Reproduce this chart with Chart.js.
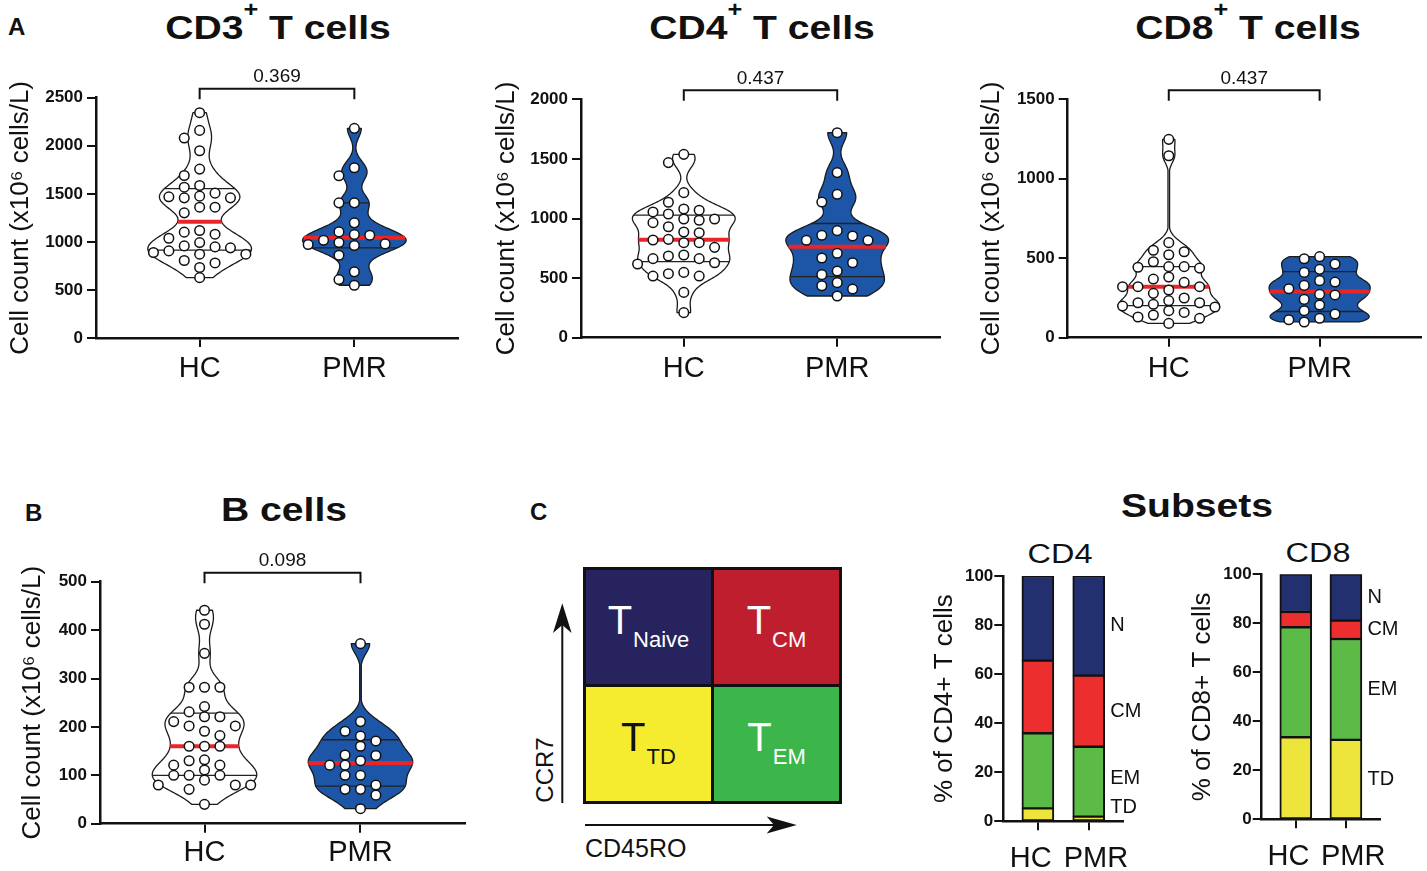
<!DOCTYPE html>
<html><head><meta charset="utf-8">
<script src="https://cdn.jsdelivr.net/npm/chart.js@4.4.1/dist/chart.umd.min.js"></script>
<style>
html,body{margin:0;padding:0;background:#fff}
body{position:relative;width:1427px;height:871px;overflow:hidden;font-family:"Liberation Sans",Arial,Helvetica,sans-serif;color:#111}
canvas{position:absolute}
.t{position:absolute;white-space:nowrap;line-height:1}
.letter{font-weight:bold;font-size:24px}
.ttl{font-weight:bold;font-size:34px;transform:translateX(-50%) scaleX(1.15)}
.ttl sup{font-size:22px;position:relative;top:-22px;vertical-align:baseline;margin-left:0}
.sttl{font-size:27px;transform:translateX(-50%) scaleX(1.2)}
#quad{position:absolute;left:583px;top:567px;width:259px;height:237px;box-sizing:border-box;border:3px solid #111;background:#111;display:grid;grid-template-columns:1fr 1fr;grid-template-rows:1fr 1fr;gap:3px}
.qc{display:flex;align-items:center;justify-content:center;padding-bottom:14px;box-sizing:border-box;font-size:39px;line-height:1}
.qc .T{font-size:40px}
.qc .s{font-size:22px;position:relative;top:13px;margin-left:1px}
</style></head>
<body>
<div class="t letter" style="left:8px;top:15px">A</div>
<div class="t letter" style="left:25px;top:501px">B</div>
<div class="t letter" style="left:530px;top:500px">C</div>
<div class="t ttl" style="left:278px;top:10px">CD3<sup>+</sup> T cells</div>
<div class="t ttl" style="left:762px;top:10px">CD4<sup>+</sup> T cells</div>
<div class="t ttl" style="left:1248px;top:10px">CD8<sup>+</sup> T cells</div>
<div class="t ttl" style="left:284px;top:492px">B cells</div>
<div class="t ttl" style="left:1197px;top:488px">Subsets</div>
<div class="t sttl" style="left:1060px;top:541px">CD4</div>
<div class="t sttl" style="left:1318px;top:540px">CD8</div>

<div id="quad">
  <div class="qc" style="background:#27235f;color:#fff"><span><span class="T">T</span><span class="s">Naive</span></span></div>
  <div class="qc" style="background:#bf1e2e;color:#fff"><span><span class="T">T</span><span class="s">CM</span></span></div>
  <div class="qc" style="background:#f5eb2f;color:#111"><span><span class="T">T</span><span class="s">TD</span></span></div>
  <div class="qc" style="background:#3cb54a;color:#fff"><span><span class="T">T</span><span class="s">EM</span></span></div>
</div>
<svg style="position:absolute;left:540px;top:595px" width="270" height="245">
  <line x1="22.3" y1="208" x2="22.3" y2="30" stroke="#111" stroke-width="2"/>
  <path d="M22.3 8.3 L13 38 L22.3 30 L31.6 38 Z" fill="#111"/>
  <line x1="45" y1="230" x2="236" y2="230" stroke="#111" stroke-width="2"/>
  <path d="M256.7 230 L226.7 221.5 L234 230 L226.7 238.5 Z" fill="#111"/>
</svg>
<div class="t" style="left:545px;top:770px;font-size:24px;transform:translate(-50%,-50%) rotate(-90deg)">CCR7</div>
<div class="t" style="left:585px;top:836px;font-size:25px">CD45RO</div>

<script>
// ---------------- DATA ----------------
const groups = ['HC', 'PMR'];

const cd3HC  = [2344,2160,2080,1948,1757,1691,1587,1569,1507,1476,1469,1458,1458,1361,1361,1302,1118,1101,1080,1038,993,958,948,938,906,889,872,872,806,781,733,628];
const cd3PMR = [2181,1771,1688,1406,1406,1198,1104,1076,1069,1017,993,979,972,962,861,688,608,549];
const cd4HC  = [1538,1469,1217,1136,1080,1069,1055,1038,996,996,985,965,931,887,881,825,820,797,797,758,694,685,663,663,629,618,548,537,517,517,380,210];
const cd4PMR = [1720,1385,1203,1138,898,859,853,817,817,708,669,629,559,529,462,436,408,350];
const cd8HC  = [1248,1145,598,550,541,522,478,447,447,443,438,382,369,348,321,321,321,300,279,250,233,220,220,210,199,193,170,159,143,130,122,90];
const cd8PMR = [510,497,464,430,411,359,350,329,308,273,269,241,206,170,149,122,113,99];
const bHC    = [441,412,352,282,282,282,242,231,221,221,211,202,202,191,182,160,160,160,132,130,121,121,111,100,100,100,90,80,80,80,71,40];
const bPMR   = [372,211,191,181,171,160,142,141,130,121,121,100,100,80,71,71,59,31];

const pCD3 = '0.369', pCD4 = '0.437', pCD8 = '0.437', pB = '0.098';

const yTicksCD3 = [0,500,1000,1500,2000,2500];
const yTicksCD4 = [0,500,1000,1500,2000];
const yTicksCD8 = [0,500,1000,1500];
const yTicksB   = [0,100,200,300,400,500];
const yTicksPct = [0,20,40,60,80,100];

const subsetNames = ['TD','EM','CM','N'];
const cd4TD = [5.3, 1.9], cd4EM = [30.6, 28.5], cd4CM = [29.6, 29.0], cd4N = [34.5, 40.6];
const cd8TD = [33.5, 32.4], cd8EM = [44.9, 41.2], cd8CM = [6.2, 7.5], cd8N = [15.4, 18.9];

const countTitle = 'Cell count (x10\u2076 cells/L)';

// ---------------- STYLE ----------------
const violinFills = ['#ffffff', '#1d56a6'];
const subsetColors = ['#ede53b', '#5cba47', '#ec2e2e', '#22306f'];
const INK = '#111';

Chart.defaults.font.family = '"Liberation Sans", Arial, sans-serif';
Chart.defaults.color = INK;

function quant(sorted, p) {
  const n = sorted.length, r = p * (n + 1);
  if (r <= 1) return sorted[0];
  if (r >= n) return sorted[n - 1];
  const lo = Math.floor(r), f = r - lo;
  return sorted[lo - 1] + f * (sorted[lo] - sorted[lo - 1]);
}

const violinPlugin = {
  id: 'violin',
  beforeDatasetsDraw(chart, args, opts) {
    const ctx = chart.ctx, xs = chart.scales.x, ys = chart.scales.y;
    opts.groups.forEach((g, gi) => {
      const vals = g.values.slice().sort((a, b) => a - b);
      const n = vals.length;
      const mean = vals.reduce((a, b) => a + b, 0) / n;
      const sd = Math.sqrt(vals.reduce((a, b) => a + (b - mean) ** 2, 0) / (n - 1));
      const iqr = quant(vals, 0.75) - quant(vals, 0.25);
      const h = opts.bw * 0.9 * Math.min(sd, iqr / 1.34) * Math.pow(n, -0.2);
      const dens = y => vals.reduce((s, v) => s + Math.exp(-0.5 * ((y - v) / h) ** 2), 0);
      const lo = vals[0], hi = vals[n - 1], M = 140;
      const samples = []; let dmax = 0;
      for (let i = 0; i <= M; i++) { const y = lo + (hi - lo) * i / M; const d = dens(y); samples.push([y, d]); if (d > dmax) dmax = d; }
      const cx = xs.getPixelForValue(gi + 1);
      const half = xs.getPixelForValue(gi + 1 + opts.halfWidth) - cx;
      const w = d => Math.max(0.8, half * d / dmax);
      ctx.save();
      ctx.beginPath();
      samples.forEach(([y, d], i) => { const px = cx - w(d), py = ys.getPixelForValue(y); i ? ctx.lineTo(px, py) : ctx.moveTo(px, py); });
      for (let i = M; i >= 0; i--) { const [y, d] = samples[i]; ctx.lineTo(cx + w(d), ys.getPixelForValue(y)); }
      ctx.closePath();
      ctx.fillStyle = g.fill; ctx.fill();
      ctx.lineWidth = 1.3; ctx.strokeStyle = '#1a1a1a'; ctx.lineJoin = 'round'; ctx.stroke();
      [[0.25, '#222', 1.3], [0.75, '#222', 1.3], [0.5, '#e8262a', 4]].forEach(([p, c, lw]) => {
        const q = quant(vals, p), ww = w(dens(q)), py = ys.getPixelForValue(q);
        ctx.beginPath(); ctx.moveTo(cx - ww, py); ctx.lineTo(cx + ww, py);
        ctx.strokeStyle = c; ctx.lineWidth = lw; ctx.stroke();
      });
      ctx.restore();
    });
  }
};

const bracketPlugin = {
  id: 'pbracket',
  afterDraw(chart, args, opts) {
    const ctx = chart.ctx, xs = chart.scales.x, top = chart.chartArea.top;
    const x1 = xs.getPixelForValue(1), x2 = xs.getPixelForValue(2), y = top - 9;
    ctx.save();
    ctx.strokeStyle = INK; ctx.lineWidth = 2;
    ctx.beginPath(); ctx.moveTo(x1, top + 1.5); ctx.lineTo(x1, y); ctx.lineTo(x2, y); ctx.lineTo(x2, top + 1.5); ctx.stroke();
    ctx.fillStyle = INK; ctx.font = '19px "Liberation Sans", Arial, sans-serif';
    ctx.textAlign = 'center'; ctx.textBaseline = 'middle';
    ctx.fillText(opts.text, (x1 + x2) / 2, top - 21);
    ctx.restore();
  }
};

const segLabelPlugin = {
  id: 'segLabels',
  afterDatasetsDraw(chart, args, opts) {
    const ctx = chart.ctx, xs = chart.scales.x, ys = chart.scales.y;
    const x = xs.getPixelForValue(2) + 21.5;
    let cum = 0, prev = -Infinity;
    ctx.save();
    ctx.font = '20px "Liberation Sans", Arial, sans-serif'; ctx.fillStyle = INK;
    ctx.textAlign = 'left'; ctx.textBaseline = 'middle';
    opts.names.forEach((name, k) => {
      const v = opts.values[k]; const mid = cum + v / 2; cum += v;
      const y = Math.max(mid, prev + 12, 5.5); prev = y;
      ctx.fillText(name, x, ys.getPixelForValue(y));
    });
    ctx.restore();
  }
};

function addCanvas(r) {
  const c = document.createElement('canvas');
  c.width = r.w; c.height = r.h;
  c.style.left = r.left + 'px'; c.style.top = r.top + 'px';
  c.style.width = r.w + 'px'; c.style.height = r.h + 'px';
  document.body.appendChild(c);
  return c;
}

function yScale(cv, area, ticksArr, max, title, titleCx, tickPad) {
  const fs = 26;
  return {
    type: 'linear', position: 'left', min: 0, max: max,
    afterBuildTicks: s => { s.ticks = ticksArr.map(v => ({ value: v })); },
    afterFit: s => { s.width = area.l - cv.left; },
    grid: { display: true, drawOnChartArea: false, drawTicks: true, tickLength: 9, color: INK, lineWidth: 2 },
    border: { display: true, color: INK, width: 2.5 },
    ticks: { font: { size: 17, weight: 'bold' }, color: INK, padding: tickPad, autoSkip: false, callback: v => String(v) },
    title: { display: true, text: title, color: INK, font: { size: fs }, padding: { top: titleCx - cv.left - fs * 0.6, bottom: 0 } }
  };
}
function xScale(cv, area, tickPad, lo, hi, labelFn) {
  return {
    type: 'linear', position: 'bottom', min: lo, max: hi, offset: false,
    afterBuildTicks: s => { s.ticks = groups.map((g, i) => ({ value: i + 1 })); },
    afterFit: s => { s.height = cv.top + cv.h - area.b; },
    grid: { display: true, offset: false, drawOnChartArea: false, drawTicks: true, tickLength: 9, color: INK, lineWidth: 2 },
    border: { display: true, color: INK, width: 2.5 },
    ticks: { font: { size: 29 }, color: INK, padding: tickPad, autoSkip: false, maxRotation: 0, minRotation: 0,
      callback: (v, i) => labelFn ? labelFn(groups[i], i) : groups[i] }
  };
}
function padding(cv, area) {
  return { left: 0, bottom: 0, top: area.t - cv.top, right: cv.left + cv.w - area.r };
}

function swarm(chart, valueSets) {
  const xs = chart.scales.x, ys = chart.scales.y;
  const unit = xs.getPixelForValue(2) - xs.getPixelForValue(1);
  const stepPx = 15.4, minDy = 10;
  const order = [0, -1, 1, -2, 2, -3, 3, -4, 4, -5, 5];
  chart.data.datasets.forEach((ds, gi) => {
    const vals = valueSets[gi];
    const idx = vals.map((v, i) => i).sort((a, b) => vals[b] - vals[a]);
    const placed = [], xo = new Array(vals.length);
    idx.forEach(i => {
      const py = ys.getPixelForValue(vals[i]);
      let slot = 0;
      for (const k of order) { if (!placed.some(p => p.k === k && Math.abs(p.py - py) < minDy)) { slot = k; break; } }
      placed.push({ k: slot, py });
      xo[i] = gi + 1 + slot * stepPx / unit;
    });
    ds.data = vals.map((v, i) => ({ x: xo[i], y: v }));
  });
  chart.update('none');
}

function violinChart(c) {
  const cv = c.cv, area = c.area;
  const canvas = addCanvas(cv);
  const chart = new Chart(canvas, {
    type: 'scatter',
    data: { datasets: c.values.map((vals, gi) => ({
      data: vals.map(v => ({ x: gi + 1, y: v })),
      pointRadius: 4.8, pointHoverRadius: 4.8, pointBorderWidth: 1.5,
      pointBackgroundColor: '#fff', pointBorderColor: INK, clip: false
    })) },
    options: {
      responsive: false, animation: false, events: [],
      layout: { padding: padding(cv, area) },
      plugins: {
        legend: { display: false }, tooltip: { enabled: false },
        violin: { groups: c.values.map((v, gi) => ({ values: v, fill: violinFills[gi] })), bw: 0.55, halfWidth: 0.335 },
        pbracket: { text: c.p }
      },
      scales: {
        x: xScale(cv, area, c.xPad, 0.33, 2.67),
        y: yScale(cv, area, c.ticks, c.max, countTitle, c.titleCx, 4)
      }
    },
    plugins: [violinPlugin, bracketPlugin]
  });
  swarm(chart, c.values);
}

function barChart(c) {
  const cv = c.cv, area = c.area;
  const canvas = addCanvas(cv);
  new Chart(canvas, {
    type: 'bar',
    data: { datasets: subsetNames.map((name, k) => ({
      label: name,
      data: c.series[k].map((v, i) => ({ x: i + 1, y: v })),
      backgroundColor: subsetColors[k], borderColor: INK,
      borderWidth: { top: 1.5, bottom: 1.5, left: 2, right: 2 }, borderSkipped: false,
      barThickness: 32
    })) },
    options: {
      responsive: false, animation: false, events: [],
      layout: { padding: padding(cv, area) },
      plugins: { legend: { display: false }, tooltip: { enabled: false },
        segLabels: { names: subsetNames, values: c.series.map(s => s[1]) } },
      scales: {
        x: Object.assign(xScale(cv, area, c.xPad, 0.32, 2.68, (g, i) => i === 0 ? g + '\u2002' : '\u2002' + g), { stacked: true }),
        y: Object.assign(yScale(cv, area, yTicksPct, 100, c.title, c.titleCx, 1), { stacked: true })
      }
    },
    plugins: [segLabelPlugin]
  });
}

violinChart({ cv: { left: 0, top: 50, w: 470, h: 345 }, area: { l: 96, t: 97.7, r: 458, b: 338 },
  values: [cd3HC, cd3PMR], ticks: yTicksCD3, max: 2500, p: pCD3, titleCx: 21, xPad: 4.6 });
violinChart({ cv: { left: 485, top: 50, w: 470, h: 345 }, area: { l: 581, t: 99.3, r: 940, b: 337.7 },
  values: [cd4HC, cd4PMR], ticks: yTicksCD4, max: 2000, p: pCD4, titleCx: 507, xPad: 4.6 });
violinChart({ cv: { left: 970, top: 50, w: 457, h: 345 }, area: { l: 1067.7, t: 99.3, r: 1426, b: 337.7 },
  values: [cd8HC, cd8PMR], ticks: yTicksCD8, max: 1500, p: pCD8, titleCx: 992, xPad: 4.6 });
violinChart({ cv: { left: 0, top: 530, w: 480, h: 341 }, area: { l: 100, t: 581.7, r: 465, b: 823.7 },
  values: [bHC, bPMR], ticks: yTicksB, max: 500, p: pB, titleCx: 33, xPad: 3 });

barChart({ cv: { left: 915, top: 560, w: 235, h: 311 }, area: { l: 1003.3, t: 576, r: 1123.3, b: 821.3 },
  series: [cd4TD, cd4EM, cd4CM, cd4N], title: '% of CD4+ T cells', titleCx: 945, xPad: 11 });
barChart({ cv: { left: 1175, top: 560, w: 252, h: 311 }, area: { l: 1261.7, t: 574.3, r: 1380, b: 819.3 },
  series: [cd8TD, cd8EM, cd8CM, cd8N], title: '% of CD8+ T cells', titleCx: 1203, xPad: 11 });
</script>
</body></html>
